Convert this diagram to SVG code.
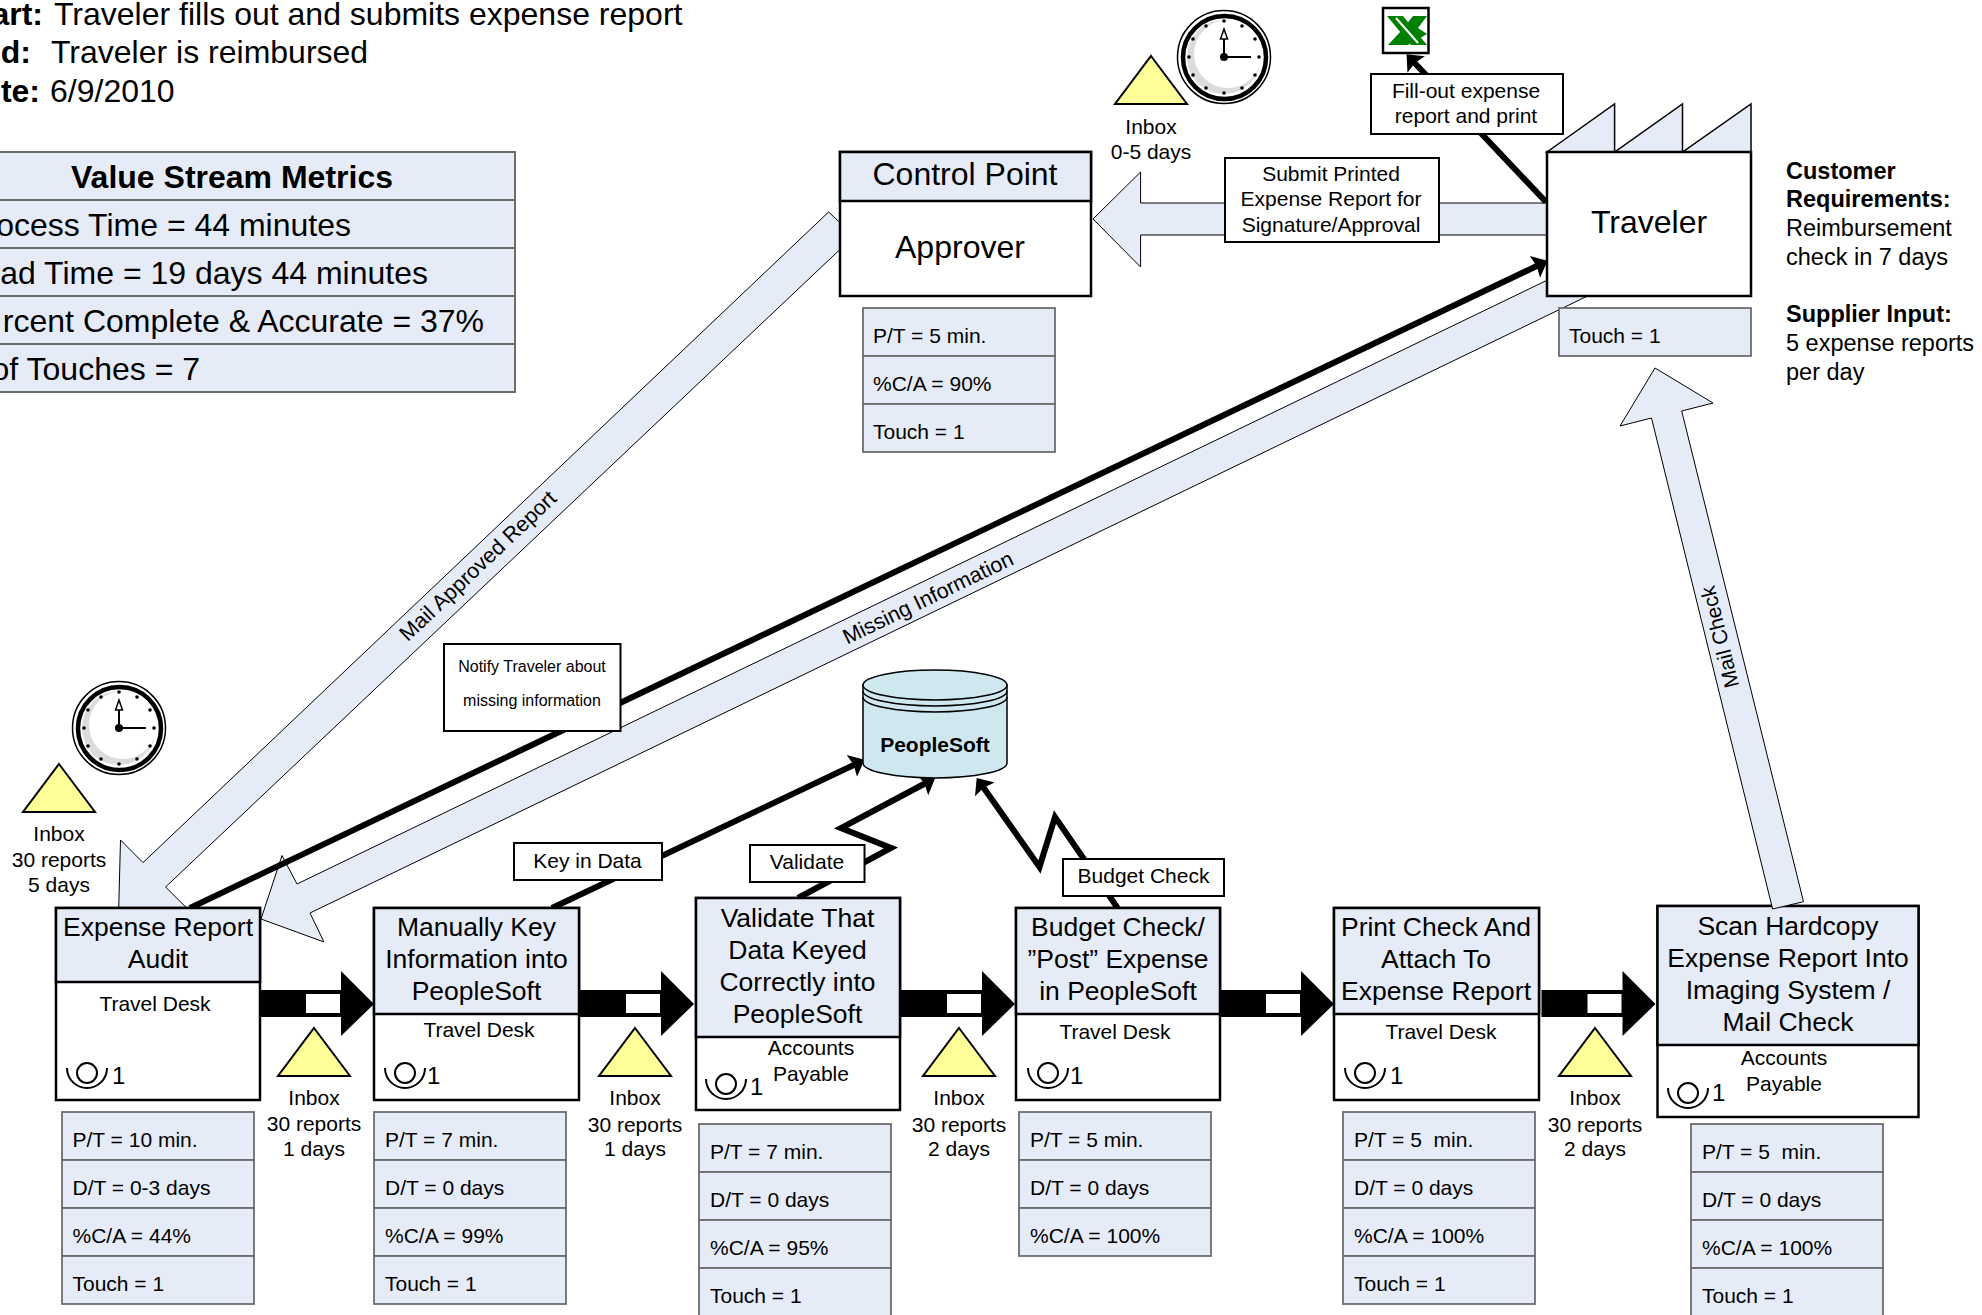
<svg xmlns="http://www.w3.org/2000/svg" width="1982" height="1315" viewBox="0 0 1982 1315">
<style>
text{font-family:"Liberation Sans",Arial,sans-serif;fill:#000}
.f16{font-size:16px}.f21{font-size:21px}.f215{font-size:21.5px}.f23{font-size:23.5px}.f24{font-size:24px}.f26{font-size:26.5px}.f32{font-size:32px}
.mid{text-anchor:middle}.end{text-anchor:end}.b{font-weight:bold}
.box{fill:#fff;stroke:#000;stroke-width:2.5}
.hdr{fill:#E6ECF7;stroke:#000;stroke-width:2.5}
.met{fill:#E6ECF7;stroke:#6D6D6D;stroke-width:1.8}
.vsm{fill:#E6ECF7;stroke:#6D6D6D;stroke-width:2}
.lbl{fill:#fff;stroke:#000;stroke-width:2}
.big{fill:#E6ECF7;stroke:#000;stroke-width:1}
.ln{fill:none;stroke:#000;stroke-width:6;stroke-linejoin:miter}
.inv{fill:#FFFF99;stroke:#000;stroke-width:2}
</style>
<defs>
<marker id="hd" markerUnits="userSpaceOnUse" markerWidth="18" markerHeight="26" refX="9" refY="13" orient="auto">
<path d="M0 1 L14 13 L0 25 L2 13 Z" fill="#000"/>
</marker>
<g id="push">
<rect x="0" y="990" width="44" height="27" fill="#000"/>
<rect x="44" y="992" width="38" height="23" fill="#fff" stroke="#000" stroke-width="4"/>
<path d="M81 971 L114 1004 L81 1036 Z" fill="#000"/>
</g>
<g id="op">
<circle cx="0" cy="0" r="10" fill="none" stroke="#000" stroke-width="2"/>
<path d="M-20 -5 A20 20 0 0 0 20 -5" fill="none" stroke="#000" stroke-width="2"/>
</g>
<path id="tri" class="inv" d="M0 0 L36 48 L-36 48 Z"/>
<g id="clock">
<circle r="46.5" fill="#fff" stroke="#000" stroke-width="1.5"/>
<circle cx="0.5" cy="0.5" r="41.5" fill="#fff" stroke="#000" stroke-width="4.5"/>
<circle r="37" fill="#DCDCDC"/>
<circle cx="4" cy="-3" r="34" fill="#fff"/>
<g fill="#000">
<circle cx="0" cy="-36" r="1.8"/><circle cx="18" cy="-31" r="1.8"/><circle cx="31" cy="-18" r="1.8"/><circle cx="35" cy="0" r="1.8"/><circle cx="31" cy="18" r="1.8"/><circle cx="18" cy="31" r="1.8"/><circle cx="0" cy="36" r="1.8"/><circle cx="-18" cy="31" r="1.8"/><circle cx="-31" cy="18" r="1.8"/><circle cx="-35" cy="0" r="1.8"/><circle cx="-31" cy="-18" r="1.8"/><circle cx="-18" cy="-31" r="1.8"/>
<circle r="4"/>
</g>
<path d="M0 0 V-20 M0 0 H27" stroke="#000" stroke-width="2" fill="none"/>
<path d="M0 -28 L3.5 -18 L-3.5 -18 Z" fill="#fff" stroke="#000" stroke-width="1.5"/>
</g>
</defs>

<g id="header-text">
<text class="f32 b end" x="43" y="25">art:</text><text class="f32" x="54" y="25">Traveler fills out and submits expense report</text>
<text class="f32 b end" x="31" y="63">d:</text><text class="f32" x="51" y="63">Traveler is reimbursed</text>
<text class="f32 b end" x="40" y="102">te:</text><text class="f32" x="50" y="102">6/9/2010</text>
</g>

<g id="value-stream-metrics">
<rect class="vsm" x="-10" y="152" width="525" height="48"/>
<rect class="vsm" x="-10" y="200" width="525" height="48"/>
<rect class="vsm" x="-10" y="248" width="525" height="48"/>
<rect class="vsm" x="-10" y="296" width="525" height="48"/>
<rect class="vsm" x="-10" y="344" width="525" height="48"/>
<text class="f32 b mid" x="232" y="188">Value Stream Metrics</text>
<text class="f32 end" x="351" y="236">ocess Time = 44 minutes</text>
<text class="f32 end" x="428" y="284">ad Time = 19 days 44 minutes</text>
<text class="f32 end" x="484" y="332">rcent Complete &amp; Accurate = 37%</text>
<text class="f32 end" x="200" y="380">of Touches = 7</text>
</g>

<g id="connectors">
<polygon class="big" points="1547,203 1140.6,203 1140.6,172 1093,219 1140.6,267 1140.6,235 1547,235"/>
<polygon class="big" points="828.6,212 850,232 850,240 165.6,887 215,936 118,935 120.5,840 143,862.6"/>
<polygon class="big" points="1560,274 1600,290 310,913 324,942 261,919 282,855.5 297,884"/>
<path class="ln" d="M190 908 L1543 263" marker-end="url(#hd)"/>
<path class="ln" d="M1546 202 L1410 58" marker-end="url(#hd)"/>
<path class="ln" d="M552 908 L860 762" marker-end="url(#hd)"/>
<path class="ln" d="M798 898 L891 848 L841 828 L930.6 780.5" marker-end="url(#hd)"/>
<path class="ln" d="M1117.6 908 L1055 817 L1039.5 867 L979.6 782" marker-end="url(#hd)"/>
<use href="#push" x="260"/>
<use href="#push" x="580"/>
<use href="#push" x="901"/>
<use href="#push" x="1220"/>
<use href="#push" x="1541.5"/>
<text class="f215 mid" transform="translate(478,566) rotate(-43.5)" x="0" y="7">Mail Approved Report</text>
<text class="f215 mid" transform="translate(928,598) rotate(-25.8)" x="0" y="7">Missing Information</text>
</g>

<g id="excel">
<rect x="1383" y="8" width="45.5" height="45" fill="#fff" stroke="#000" stroke-width="2.5"/>
<polygon points="1387,16 1403,16 1427,45 1411,45" fill="#008000"/>
<polygon points="1413,16 1427,16 1418,28 1427,34 1408,45 1388,45 1402,30" fill="#008000"/>
<path d="M1396 18 L1418 43" stroke="#fff" stroke-width="2"/>
</g>

<g id="traveler">
<polygon class="hdr" style="stroke-width:1.5" points="1547,152 1614.6,104 1614.6,152 1682.5,104 1682.5,152 1751,104 1751,152"/>
<rect class="box" x="1547" y="152" width="204" height="144"/>
<text class="f32 mid" x="1649" y="233">Traveler</text>
<rect class="met" x="1559" y="308" width="192" height="48"/>
<text class="f21" x="1569" y="343">Touch = 1</text>
</g>

<g id="fill-out">
<rect class="lbl" x="1371" y="74" width="192" height="60"/>
<text class="f21 mid" x="1466" y="98">Fill-out expense</text>
<text class="f21 mid" x="1466" y="123">report and print</text>
</g>

<g id="submit">
<rect class="lbl" x="1225" y="158" width="214" height="84"/>
<text class="f21 mid" x="1331" y="181">Submit Printed</text>
<text class="f21 mid" x="1331" y="206">Expense Report for</text>
<text class="f21 mid" x="1331" y="232">Signature/Approval</text>
</g>

<g id="control-point">
<rect class="box" x="840" y="152" width="251" height="144"/>
<rect class="hdr" x="840" y="152" width="251" height="49"/>
<text class="f32 mid" x="965" y="185">Control Point</text>
<text class="f32 mid" x="960" y="258" textLength="130" lengthAdjust="spacingAndGlyphs">Approver</text>
<rect class="met" x="863" y="308" width="192" height="48"/>
<rect class="met" x="863" y="356" width="192" height="48"/>
<rect class="met" x="863" y="404" width="192" height="48"/>
<text class="f21" x="873" y="343">P/T = 5 min.</text>
<text class="f21" x="873" y="391">%C/A = 90%</text>
<text class="f21" x="873" y="439">Touch = 1</text>
</g>

<g id="inbox-approver">
<use href="#tri" x="1151" y="56"/>
<text class="f21 mid" x="1151" y="134">Inbox</text>
<text class="f21 mid" x="1151" y="159">0-5 days</text>
</g>
<use id="clock-approver" href="#clock" x="1224" y="57"/>

<g id="requirements">
<text class="f23 b" x="1786" y="179">Customer</text>
<text class="f23 b" x="1786" y="207">Requirements:</text>
<text class="f23" x="1786" y="236">Reimbursement</text>
<text class="f23" x="1786" y="265">check in 7 days</text>
<text class="f23 b" x="1786" y="322">Supplier Input:</text>
<text class="f23" x="1786" y="351">5 expense reports</text>
<text class="f23" x="1786" y="380">per day</text>
</g>

<g id="peoplesoft">
<path d="M863 685 V763 A72 15 0 0 0 1007 763 V685 Z" fill="#CFE7EE" stroke="#000" stroke-width="1.5"/>
<ellipse cx="935" cy="685" rx="72" ry="15" fill="#CFE7EE" stroke="#000" stroke-width="1.5"/>
<path d="M863 691 A72 15 0 0 0 1007 691 M863 697 A72 15 0 0 0 1007 697" fill="none" stroke="#000" stroke-width="1.5"/>
<text class="f21 b mid" x="935" y="752">PeopleSoft</text>
</g>

<g id="notify">
<rect class="lbl" x="444" y="644" width="176.5" height="87"/>
<text class="f16 mid" x="532" y="672">Notify Traveler about</text>
<text class="f16 mid" x="532" y="706">missing information</text>
</g>
<g id="key-in-data">
<rect class="lbl" x="514" y="843" width="148" height="37"/>
<text class="f21 mid" x="587.5" y="868">Key in Data</text>
</g>
<g id="validate">
<rect class="lbl" x="750" y="845" width="114.5" height="37"/>
<text class="f21 mid" x="807" y="869">Validate</text>
</g>
<g id="budget-check">
<rect class="lbl" x="1063" y="859" width="161" height="37"/>
<text class="f21 mid" x="1143.5" y="883">Budget Check</text>
</g>

<g id="inbox-audit">
<use href="#tri" x="59" y="764"/>
<text class="f21 mid" x="59" y="841">Inbox</text>
<text class="f21 mid" x="59" y="867">30 reports</text>
<text class="f21 mid" x="59" y="892">5 days</text>
</g>
<use id="clock-audit" href="#clock" x="119" y="728"/>

<g id="expense-report-audit">
<rect class="box" x="56" y="908" width="204" height="192"/>
<rect class="hdr" x="56" y="908" width="204" height="74"/>
<text class="f26 mid" x="158" y="936">Expense Report</text>
<text class="f26 mid" x="158" y="968">Audit</text>
<text class="f21 mid" x="155" y="1011">Travel Desk</text>
<use href="#op" x="87" y="1073"/><text class="f24" x="112" y="1084">1</text>
<rect class="met" x="62" y="1112" width="192" height="48"/>
<rect class="met" x="62" y="1160" width="192" height="48"/>
<rect class="met" x="62" y="1208" width="192" height="48"/>
<rect class="met" x="62" y="1256" width="192" height="48"/>
<text class="f21" x="72.5" y="1147">P/T = 10 min.</text>
<text class="f21" x="72.5" y="1195">D/T = 0-3 days</text>
<text class="f21" x="72.5" y="1243">%C/A = 44%</text>
<text class="f21" x="72.5" y="1291">Touch = 1</text>
</g>

<g id="inbox-1">
<use href="#tri" x="314" y="1028"/>
<text class="f21 mid" x="314" y="1105">Inbox</text>
<text class="f21 mid" x="314" y="1131">30 reports</text>
<text class="f21 mid" x="314" y="1156">1 days</text>
</g>

<g id="manually-key">
<rect class="box" x="374" y="908" width="205" height="192"/>
<rect class="hdr" x="374" y="908" width="205" height="106"/>
<text class="f26 mid" x="476.5" y="936">Manually Key</text>
<text class="f26 mid" x="476.5" y="968">Information into</text>
<text class="f26 mid" x="476.5" y="1000">PeopleSoft</text>
<text class="f21 mid" x="479" y="1037">Travel Desk</text>
<use href="#op" x="405" y="1073"/><text class="f24" x="427" y="1084">1</text>
<rect class="met" x="374" y="1112" width="192" height="48"/>
<rect class="met" x="374" y="1160" width="192" height="48"/>
<rect class="met" x="374" y="1208" width="192" height="48"/>
<rect class="met" x="374" y="1256" width="192" height="48"/>
<text class="f21" x="385" y="1147">P/T = 7 min.</text>
<text class="f21" x="385" y="1195">D/T = 0 days</text>
<text class="f21" x="385" y="1243">%C/A = 99%</text>
<text class="f21" x="385" y="1291">Touch = 1</text>
</g>

<g id="inbox-2">
<use href="#tri" x="635" y="1028"/>
<text class="f21 mid" x="635" y="1105">Inbox</text>
<text class="f21 mid" x="635" y="1132">30 reports</text>
<text class="f21 mid" x="635" y="1156">1 days</text>
</g>

<g id="validate-that">
<rect class="box" x="696" y="898" width="204" height="212"/>
<rect class="hdr" x="696" y="898" width="204" height="139"/>
<text class="f26 mid" x="797.5" y="927">Validate That</text>
<text class="f26 mid" x="797.5" y="959">Data Keyed</text>
<text class="f26 mid" x="797.5" y="991">Correctly into</text>
<text class="f26 mid" x="797.5" y="1023">PeopleSoft</text>
<text class="f21 mid" x="811" y="1055">Accounts</text>
<text class="f21 mid" x="811" y="1081">Payable</text>
<use href="#op" x="726" y="1084"/><text class="f24" x="750" y="1095">1</text>
<rect class="met" x="699" y="1124" width="192" height="48"/>
<rect class="met" x="699" y="1172" width="192" height="48"/>
<rect class="met" x="699" y="1220" width="192" height="48"/>
<rect class="met" x="699" y="1268" width="192" height="48"/>
<text class="f21" x="710" y="1159">P/T = 7 min.</text>
<text class="f21" x="710" y="1207">D/T = 0 days</text>
<text class="f21" x="710" y="1255">%C/A = 95%</text>
<text class="f21" x="710" y="1303">Touch = 1</text>
</g>

<g id="inbox-3">
<use href="#tri" x="959" y="1028"/>
<text class="f21 mid" x="959" y="1105">Inbox</text>
<text class="f21 mid" x="959" y="1132">30 reports</text>
<text class="f21 mid" x="959" y="1156">2 days</text>
</g>

<g id="budget-check-post">
<rect class="box" x="1016" y="908" width="204" height="192"/>
<rect class="hdr" x="1016" y="908" width="204" height="106"/>
<text class="f26 mid" x="1118" y="936">Budget Check/</text>
<text class="f26 mid" x="1118" y="968">”Post” Expense</text>
<text class="f26 mid" x="1118" y="1000">in PeopleSoft</text>
<text class="f21 mid" x="1115" y="1039">Travel Desk</text>
<use href="#op" x="1048" y="1073"/><text class="f24" x="1070" y="1084">1</text>
<rect class="met" x="1019" y="1112" width="192" height="48"/>
<rect class="met" x="1019" y="1160" width="192" height="48"/>
<rect class="met" x="1019" y="1208" width="192" height="48"/>
<text class="f21" x="1030" y="1147">P/T = 5 min.</text>
<text class="f21" x="1030" y="1195">D/T = 0 days</text>
<text class="f21" x="1030" y="1243">%C/A = 100%</text>
</g>

<g id="print-check">
<rect class="box" x="1334" y="908" width="205" height="192"/>
<rect class="hdr" x="1334" y="908" width="205" height="106"/>
<text class="f26 mid" x="1436" y="936">Print Check And</text>
<text class="f26 mid" x="1436" y="968">Attach To</text>
<text class="f26 mid" x="1436" y="1000">Expense Report</text>
<text class="f21 mid" x="1441" y="1039">Travel Desk</text>
<use href="#op" x="1365" y="1073"/><text class="f24" x="1390" y="1084">1</text>
<rect class="met" x="1343" y="1112" width="192" height="48"/>
<rect class="met" x="1343" y="1160" width="192" height="48"/>
<rect class="met" x="1343" y="1208" width="192" height="48"/>
<rect class="met" x="1343" y="1256" width="192" height="48"/>
<text class="f21" x="1354" y="1147" xml:space="preserve">P/T = 5  min.</text>
<text class="f21" x="1354" y="1195">D/T = 0 days</text>
<text class="f21" x="1354" y="1243">%C/A = 100%</text>
<text class="f21" x="1354" y="1291">Touch = 1</text>
</g>

<g id="inbox-5">
<use href="#tri" x="1595" y="1028"/>
<text class="f21 mid" x="1595" y="1105">Inbox</text>
<text class="f21 mid" x="1595" y="1132">30 reports</text>
<text class="f21 mid" x="1595" y="1156">2 days</text>
</g>

<g id="scan-hardcopy">
<rect class="box" x="1657.5" y="906" width="261" height="211"/>
<rect class="hdr" x="1657.5" y="906" width="261" height="139"/>
<text class="f26 mid" x="1788" y="935">Scan Hardcopy</text>
<text class="f26 mid" x="1788" y="967">Expense Report Into</text>
<text class="f26 mid" x="1788" y="999">Imaging System /</text>
<text class="f26 mid" x="1788" y="1031">Mail Check</text>
<text class="f21 mid" x="1784" y="1065">Accounts</text>
<text class="f21 mid" x="1784" y="1091">Payable</text>
<use href="#op" x="1688" y="1093"/><text class="f24" x="1712" y="1101">1</text>
<rect class="met" x="1691" y="1124" width="192" height="48"/>
<rect class="met" x="1691" y="1172" width="192" height="48"/>
<rect class="met" x="1691" y="1220" width="192" height="48"/>
<rect class="met" x="1691" y="1268" width="192" height="48"/>
<text class="f21" x="1702" y="1159" xml:space="preserve">P/T = 5  min.</text>
<text class="f21" x="1702" y="1207">D/T = 0 days</text>
<text class="f21" x="1702" y="1255">%C/A = 100%</text>
<text class="f21" x="1702" y="1303">Touch = 1</text>
</g>

<g id="connector-mail-check">
<polygon class="big" points="1772.6,909 1803.5,901.7 1681.7,411 1713,403 1655,368 1620,426 1651.5,418"/>
<text class="f21 mid" transform="translate(1720,637) rotate(-104)" x="0" y="7">Mail Check</text>
</g>
</svg>
